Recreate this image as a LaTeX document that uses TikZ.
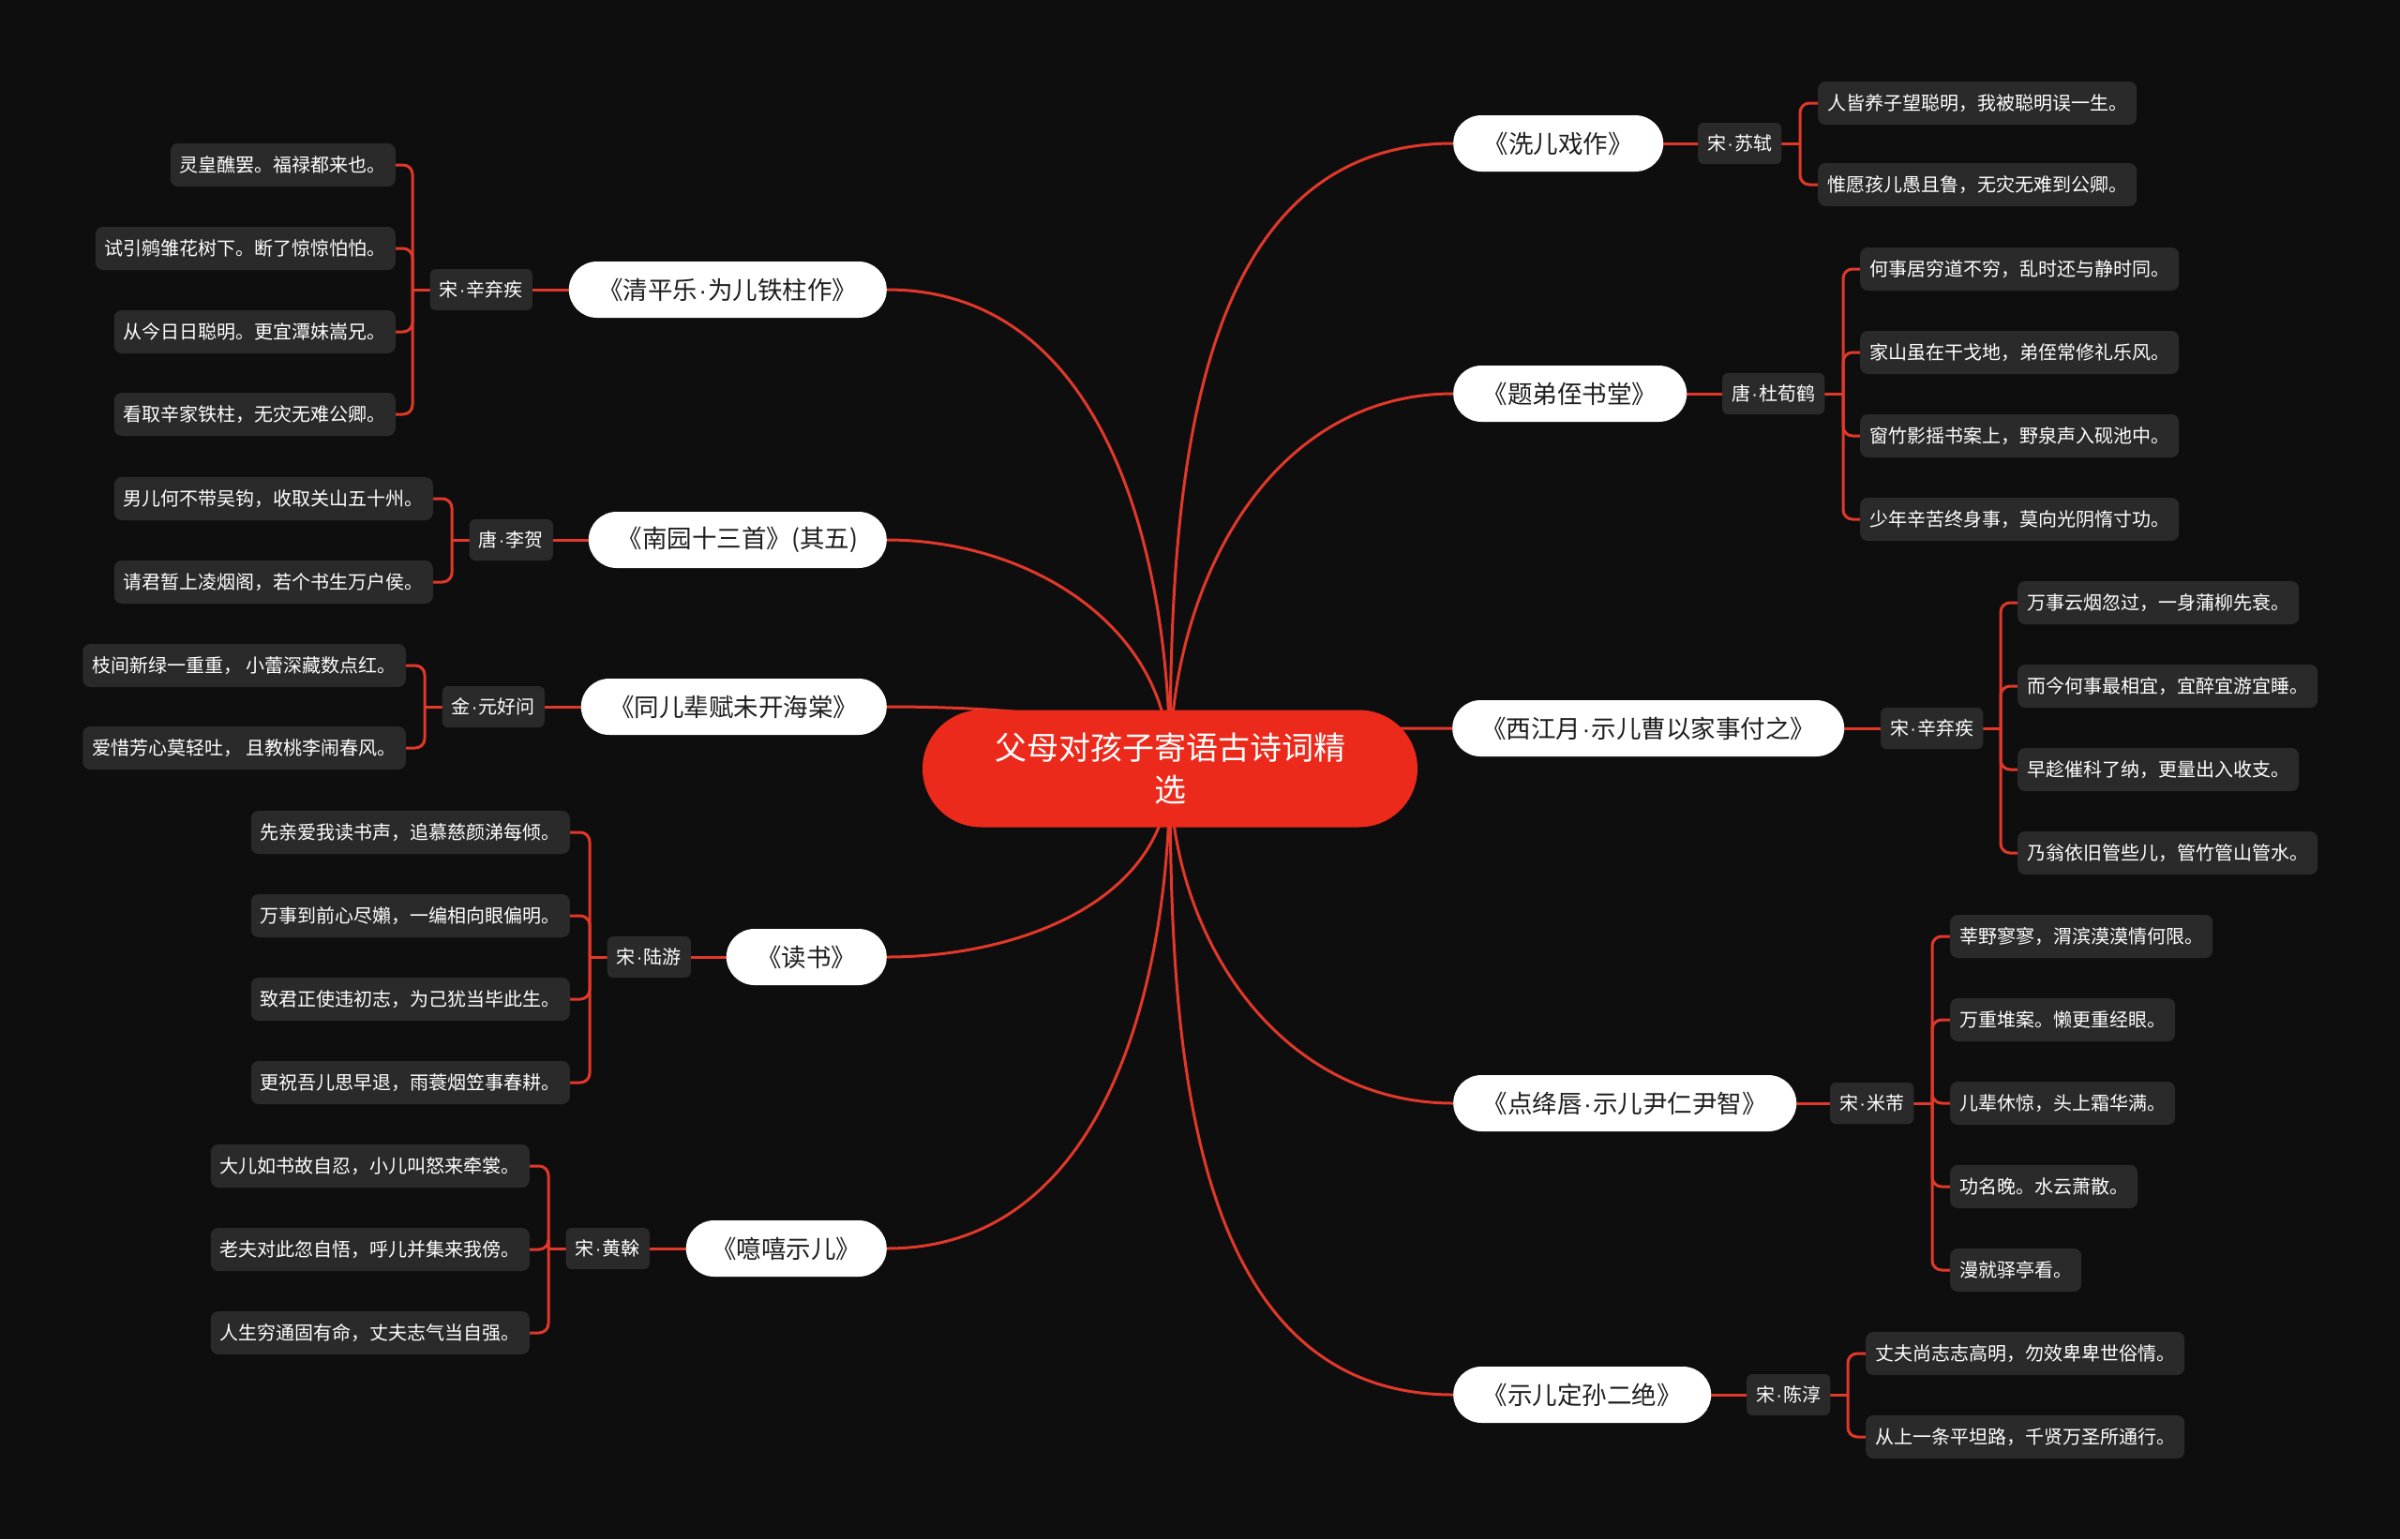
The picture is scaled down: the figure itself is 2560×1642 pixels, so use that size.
\documentclass[tikz,border=0pt]{standalone}
\usepackage{fontspec}
\setmainfont{Noto Sans CJK SC}
\newfontfamily\dotfont{Liberation Sans}
\newcommand\mdot{{\dotfont\kern1.2pt·\kern1.2pt}}
\usetikzlibrary{shapes.misc}
\definecolor{bgc}{HTML}{0E0E0E}
\definecolor{lred}{HTML}{E2382A}
\definecolor{rootred}{HTML}{EC2A1B}
\definecolor{boxgray}{HTML}{2A2A2A}
\definecolor{pilltext}{HTML}{1E1E1E}
\pgfdeclarelayer{bg}
\pgfsetlayers{bg,main}
\begin{document}
\begin{tikzpicture}[x=1pt,y=-1pt,
  branch/.style={draw=lred, line width=3pt},
  bline/.style={draw=lred, line width=3pt},
  rootnode/.style={rounded rectangle, fill=rootred, minimum width=528pt, minimum height=125pt, text=white, font=\fontsize{34}{45}\selectfont, align=center, inner sep=0pt},
  pill/.style={rounded rectangle, fill=white, minimum height=60pt, text=pilltext, font=\fontsize{26.5}{30}\selectfont, inner xsep=0pt},
  auth/.style={fill=boxgray, rounded corners=6pt, minimum height=44pt, inner xsep=10pt, inner ysep=0pt, text=white, font=\fontsize{20}{24}\selectfont},
  leaf/.style={fill=boxgray, rounded corners=8pt, minimum height=46pt, inner xsep=10pt, inner ysep=0pt, text=white, font=\fontsize{20}{24}\selectfont},
]
\useasboundingbox (0,0) rectangle (2560,1642);
\begin{pgfonlayer}{bg}
\fill[bgc] (0,0) rectangle (2560,1642);
\end{pgfonlayer}

% root
\node[rootnode] (root) at (1248,820) {父母对孩子寄语古诗词精\\选};

% ---------- right side ----------
\node[pill, minimum width=224pt, anchor=west] (p1) at (1550,153) {《洗儿戏作》};
\node[auth, anchor=west] (a1) at (1811,153) {宋\mdot 苏轼};
\node[leaf, anchor=west] (l1a) at (1939,110) {人皆养子望聪明，我被聪明误一生。};
\node[leaf, anchor=west] (l1b) at (1939,197) {惟愿孩儿愚且鲁，无灾无难到公卿。};

\node[pill, minimum width=249pt, anchor=west] (p2) at (1550,420) {《题弟侄书堂》};
\node[auth, anchor=west] (a2) at (1837,420) {唐\mdot 杜荀鹤};
\node[leaf, anchor=west] (l2a) at (1984,287) {何事居穷道不穷，乱时还与静时同。};
\node[leaf, anchor=west] (l2b) at (1984,376) {家山虽在干戈地，弟侄常修礼乐风。};
\node[leaf, anchor=west] (l2c) at (1984,465) {窗竹影摇书案上，野泉声入砚池中。};
\node[leaf, anchor=west] (l2d) at (1984,554) {少年辛苦终身事，莫向光阴惰寸功。};

\node[pill, minimum width=418pt, anchor=west] (p3) at (1549,777) {《西江月\mdot 示儿曹以家事付之》};
\node[auth, anchor=west] (a3) at (2006,777) {宋\mdot 辛弃疾};
\node[leaf, anchor=west] (l3a) at (2152,643) {万事云烟忽过，一身蒲柳先衰。};
\node[leaf, anchor=west] (l3b) at (2152,732) {而今何事最相宜，宜醉宜游宜睡。};
\node[leaf, anchor=west] (l3c) at (2152,821) {早趁催科了纳，更量出入收支。};
\node[leaf, anchor=west] (l3d) at (2152,910) {乃翁依旧管些儿，管竹管山管水。};

\node[pill, minimum width=366pt, anchor=west] (p4) at (1550,1177) {《点绛唇\mdot 示儿尹仁尹智》};
\node[auth, anchor=west] (a4) at (1952,1177) {宋\mdot 米芾};
\node[leaf, anchor=west] (l4a) at (2080,999) {莘野寥寥，渭滨漠漠情何限。};
\node[leaf, anchor=west] (l4b) at (2080,1088) {万重堆案。懒更重经眼。};
\node[leaf, anchor=west] (l4c) at (2080,1177) {儿辈休惊，头上霜华满。};
\node[leaf, anchor=west] (l4d) at (2080,1266) {功名晚。水云萧散。};
\node[leaf, anchor=west] (l4e) at (2080,1355) {漫就驿亭看。};

\node[pill, minimum width=275pt, anchor=west] (p5) at (1550,1488) {《示儿定孙二绝》};
\node[auth, anchor=west] (a5) at (1863,1488) {宋\mdot 陈淳};
\node[leaf, anchor=west] (l5a) at (1990,1444) {丈夫尚志志高明，勿效卑卑世俗情。};
\node[leaf, anchor=west] (l5b) at (1990,1533) {从上一条平坦路，千贤万圣所通行。};

% ---------- left side ----------
\node[pill, minimum width=339pt, anchor=east] (p6) at (946,309) {《清平乐\mdot 为儿铁柱作》};
\node[auth, anchor=east] (a6) at (568,309) {宋\mdot 辛弃疾};
\node[leaf, anchor=east] (l6a) at (422,176) {灵皇醮罢。福禄都来也。};
\node[leaf, anchor=east] (l6b) at (422,265) {试引鹓雏花树下。断了惊惊怕怕。};
\node[leaf, anchor=east] (l6c) at (422,354) {从今日日聪明。更宜潭妹嵩兄。};
\node[leaf, anchor=east] (l6d) at (422,442) {看取辛家铁柱，无灾无难公卿。};

\node[pill, minimum width=318pt, anchor=east] (p7) at (946,576) {《南园十三首》(其五)};
\node[auth, anchor=east] (a7) at (590,576) {唐\mdot 李贺};
\node[leaf, anchor=east] (l7a) at (462,532) {男儿何不带吴钩，收取关山五十州。};
\node[leaf, anchor=east] (l7b) at (462,621) {请君暂上凌烟阁，若个书生万户侯。};

\node[pill, minimum width=326pt, anchor=east] (p8) at (946,754) {《同儿辈赋未开海棠》};
\node[auth, anchor=east] (a8) at (581,754) {金\mdot 元好问};
\node[leaf, anchor=east] (l8a) at (433,710) {枝间新绿一重重， 小蕾深藏数点红。};
\node[leaf, anchor=east] (l8b) at (433,798) {爱惜芳心莫轻吐， 且教桃李闹春风。};

\node[pill, minimum width=171pt, anchor=east] (p9) at (946,1021) {《读书》};
\node[auth, anchor=east] (a9) at (737,1021) {宋\mdot 陆游};
\node[leaf, anchor=east] (l9a) at (608,888) {先亲爱我读书声，追慕慈颜涕每倾。};
\node[leaf, anchor=east] (l9b) at (608,977) {万事到前心尽嬾，一编相向眼偏明。};
\node[leaf, anchor=east] (l9c) at (608,1066) {致君正使违初志，为己犹当毕此生。};
\node[leaf, anchor=east] (l9d) at (608,1155) {更祝吾儿思早退，雨蓑烟笠事春耕。};

\node[pill, minimum width=214pt, anchor=east] (p10) at (946,1332) {《噫嘻示儿》};
\node[auth, anchor=east] (a10) at (693,1332) {宋\mdot 黄榦};
\node[leaf, anchor=east] (l10a) at (565,1244) {大儿如书故自忍，小儿叫怒来牵裳。};
\node[leaf, anchor=east] (l10b) at (565,1333) {老夫对此忽自悟，呼儿并集来我傍。};
\node[leaf, anchor=east] (l10c) at (565,1422) {人生穷通固有命，丈夫志气当自强。};

% ---------- connectors (behind nodes) ----------
\begin{pgfonlayer}{bg}
% root to titles
\draw[branch] (root.center) .. controls +(0,-286) and +(-286,0) .. (p1.west);
\draw[branch] (root.center) .. controls +(0,-196) and +(-196,0) .. (p2.west);
\draw[branch] (root.center) .. controls +(0,-40) and +(-150,0) .. (p3.west);
\draw[branch] (root.center) .. controls +(0,183) and +(-183,0) .. (p4.west);
\draw[branch] (root.center) .. controls +(0,287) and +(-287,0) .. (p5.west);
\draw[branch] (root.center) .. controls +(0,-232) and +(232,0) .. (p6.east);
\draw[branch] (root.center) .. controls +(0,-152) and +(152,0) .. (p7.east);
\draw[branch] (root.center) .. controls +(0,-50) and +(150,0) .. (p8.east);
\draw[branch] (root.center) .. controls +(0,141) and +(141,0) .. (p9.east);
\draw[branch] (root.center) .. controls +(0,232) and +(232,0) .. (p10.east);
% titles to authors
\draw[bline] (p1.east) -- (a1.west);
\draw[bline] (p2.east) -- (a2.west);
\draw[bline] (p3.east) -- (a3.west);
\draw[bline] (p4.east) -- (a4.west);
\draw[bline] (p5.east) -- (a5.west);
\draw[bline] (p6.west) -- (a6.east);
\draw[bline] (p7.west) -- (a7.east);
\draw[bline] (p8.west) -- (a8.east);
\draw[bline] (p9.west) -- (a9.east);
\draw[bline] (p10.west) -- (a10.east);
% authors to lines
\coordinate (s1) at (1920,153);
\coordinate (s2) at (1966,420);
\coordinate (s3) at (2134,777);
\coordinate (s4) at (2061,1177);
\coordinate (s5) at (1971,1488);
\coordinate (s6) at (440,309);
\coordinate (s7) at (482,576);
\coordinate (s8) at (453,754);
\coordinate (s9) at (629,1021);
\coordinate (s10) at (585,1332);
\draw[bline] (a1.east) -- (s1);
\draw[bline] (a2.east) -- (s2);
\draw[bline] (a3.east) -- (s3);
\draw[bline] (a4.east) -- (s4);
\draw[bline] (a5.east) -- (s5);
\draw[bline] (a6.west) -- (s6);
\draw[bline] (a7.west) -- (s7);
\draw[bline] (a8.west) -- (s8);
\draw[bline] (a9.west) -- (s9);
\draw[bline] (a10.west) -- (s10);
\begin{scope}[rounded corners=10pt]
\foreach \l in {l1a,l1b} \draw[bline] (s1) |- (\l.west);
\foreach \l in {l2a,l2b,l2c,l2d} \draw[bline] (s2) |- (\l.west);
\foreach \l in {l3a,l3b,l3c,l3d} \draw[bline] (s3) |- (\l.west);
\foreach \l in {l4a,l4b,l4c,l4d,l4e} \draw[bline] (s4) |- (\l.west);
\foreach \l in {l5a,l5b} \draw[bline] (s5) |- (\l.west);
\foreach \l in {l6a,l6b,l6c,l6d} \draw[bline] (s6) |- (\l.east);
\foreach \l in {l7a,l7b} \draw[bline] (s7) |- (\l.east);
\foreach \l in {l8a,l8b} \draw[bline] (s8) |- (\l.east);
\foreach \l in {l9a,l9b,l9c,l9d} \draw[bline] (s9) |- (\l.east);
\foreach \l in {l10a,l10b,l10c} \draw[bline] (s10) |- (\l.east);
\end{scope}
\end{pgfonlayer}
\end{tikzpicture}
\end{document}
